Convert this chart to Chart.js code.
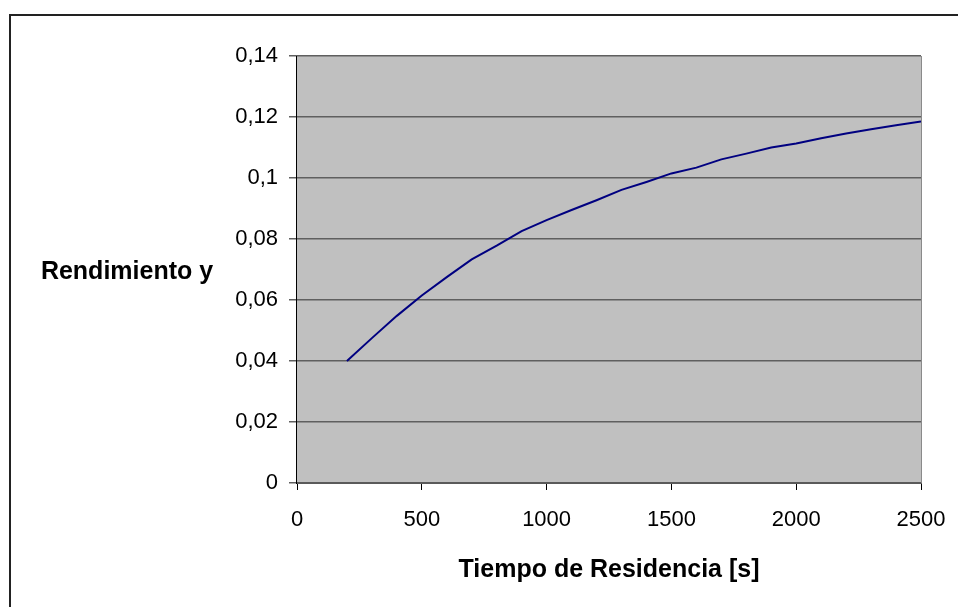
<!DOCTYPE html>
<html>
<head>
<meta charset="utf-8">
<script src="https://cdn.jsdelivr.net/npm/chart.js@4"></script>
<style>
  html, body { margin: 0; padding: 0; background: #ffffff; }
  #wrap { position: relative; width: 958px; height: 607px; }
  #frame { position: absolute; left: 9px; top: 14px; width: 960px; height: 600px;
           border-left: 2px solid #222; border-top: 2px solid #222; box-sizing: border-box; }
  canvas { position: absolute; left: 0; top: 0; }
</style>
</head>
<body>
<div id="wrap">
  <div id="frame"></div>
  <canvas id="c" width="958" height="607"></canvas>
</div>
<script>
// Residence time [s]
const tiempo = [200, 300, 400, 500, 600, 700, 800, 900, 1000, 1100, 1200, 1300,
                1400, 1500, 1600, 1700, 1800, 1900, 2000, 2100, 2200, 2300, 2400, 2500];
// Yield y
const rendimiento = [0.0400, 0.0475, 0.0548, 0.0615, 0.0675, 0.0733, 0.0778, 0.0826,
                     0.0862, 0.0895, 0.0927, 0.0961, 0.0987, 0.1015, 0.1034, 0.1061,
                     0.1080, 0.1100, 0.1113, 0.1130, 0.1146, 0.1160, 0.1173, 0.1185];

const xTicks = [0, 500, 1000, 1500, 2000, 2500];
const yTicks = [0, 0.02, 0.04, 0.06, 0.08, 0.10, 0.12, 0.14];

const tituloX = 'Tiempo de Residencia [s]';
const tituloY = 'Rendimiento y';

const FONT = '"Liberation Sans", Arial, sans-serif';

// grey plot background + frame lines + horizontal axis titles
const plotDecor = {
  id: 'plotDecor',
  beforeDraw(chart) {
    const { ctx, chartArea: a } = chart;
    ctx.save();
    ctx.fillStyle = '#c0c0c0';
    ctx.fillRect(a.left, a.top, a.right - a.left, a.bottom - a.top);
    ctx.restore();
  },
  afterDatasetsDraw(chart) {
    const { ctx, chartArea: a } = chart;
    ctx.save();
    // right edge of plot
    ctx.strokeStyle = '#8a8a8a';
    ctx.lineWidth = 1;
    ctx.beginPath();
    ctx.moveTo(a.right + 0.5, a.top);
    ctx.lineTo(a.right + 0.5, a.bottom);
    ctx.stroke();
    // left axis line
    ctx.strokeStyle = '#000';
    ctx.beginPath();
    ctx.moveTo(a.left - 0.5, a.top);
    ctx.lineTo(a.left - 0.5, a.bottom + 1);
    ctx.stroke();
    ctx.restore();
  },
  afterDraw(chart) {
    const { ctx, chartArea: a } = chart;
    ctx.save();
    ctx.fillStyle = '#000';
    ctx.font = 'bold 25px ' + FONT;
    ctx.textAlign = 'center';
    ctx.textBaseline = 'middle';
    ctx.fillText(tituloX, (a.left + a.right) / 2, a.bottom + 87);
    ctx.fillText(tituloY, 127, (a.top + a.bottom) / 2 + 3);
    ctx.restore();
  }
};

new Chart(document.getElementById('c'), {
  type: 'line',
  data: {
    datasets: [{
      data: tiempo.map((t, i) => ({ x: t, y: rendimiento[i] })),
      borderColor: '#000080',
      borderWidth: 2,
      pointRadius: 0,
      fill: false,
      tension: 0
    }]
  },
  options: {
    responsive: false,
    animation: false,
    events: [],
    layout: { padding: { left: 0, top: 56, right: 37, bottom: 0 } },
    plugins: { legend: { display: false }, tooltip: { enabled: false } },
    scales: {
      x: {
        type: 'linear',
        min: 0, max: 2500,
        afterBuildTicks(scale) { scale.ticks = xTicks.map(v => ({ value: v })); },
        afterFit(scale) { scale.height = 607 - 483; scale.paddingRight = 0; scale.paddingLeft = 0; },
        grid: { drawOnChartArea: false, drawTicks: true, tickLength: 7, color: '#000', lineWidth: 1 },
        border: { display: true, color: '#5a5a5a', width: 2 },
        ticks: {
          color: '#000', font: { family: FONT, size: 22 }, padding: 17, maxRotation: 0,
          callback: v => String(v)
        }
      },
      y: {
        min: 0, max: 0.14,
        afterBuildTicks(scale) { scale.ticks = yTicks.map(v => ({ value: v })); },
        afterFit(scale) { scale.width = 297; },
        grid: { drawOnChartArea: true, drawTicks: true, tickLength: 8, color: '#5f5f5f', lineWidth: 1.5 },
        border: { display: false },
        ticks: {
          color: '#000', font: { family: FONT, size: 22 }, padding: 11,
          callback: v => String(Math.round(v * 100) / 100).replace('.', ',')
        }
      }
    }
  },
  plugins: [plotDecor]
});
</script>
</body>
</html>
